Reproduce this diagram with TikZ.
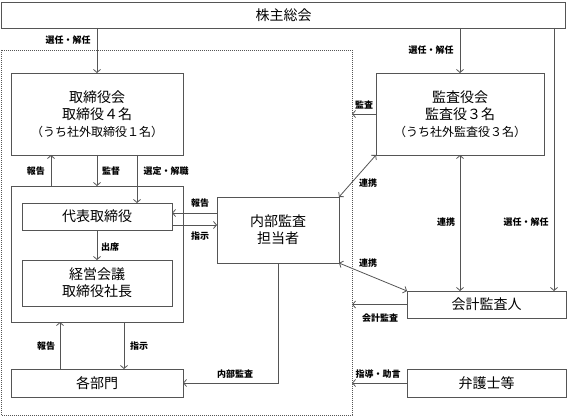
\documentclass[tikz,border=0pt]{standalone}
\usepackage{fontspec}
\setmainfont{Noto Sans CJK JP}
\usetikzlibrary{arrows.meta}
\definecolor{ln}{HTML}{555555}
\tikzset{
  x=1pt, y=-1pt,
  box/.style={draw=ln, line width=0.9pt, inner sep=0pt, outer sep=0pt, align=center,
    font=\fontsize{14}{17}\selectfont},
  arr/.style={draw=ln, line width=0.8pt, -{Straight Barb[length=3pt,width=7pt]}},
  darr/.style={draw=ln, line width=0.8pt, {Straight Barb[length=3pt,width=7pt]}-{Straight Barb[length=3pt,width=7pt]}},
  plain/.style={draw=ln, line width=0.8pt},
  lab/.style={font=\fontsize{9}{10}\selectfont\bfseries, inner sep=0pt},
}
\begin{document}
\begin{tikzpicture}
\useasboundingbox (0,0) rectangle (568,417);
% dotted frame
\draw[draw=ln, line width=0.8pt, dash pattern=on 0.8pt off 1.2pt] (1,50) rectangle (352,415);
% boxes
\node[box, minimum width=564pt, minimum height=26pt] (top) at (283.5,15) {株主総会};
\node[box, minimum width=172pt, minimum height=82pt] (tori) at (97,114)
  {取締役会\\取締役４名\\{\fontsize{12}{13}\selectfont（うち社外取締役１名）}};
\node[box, minimum width=168pt, minimum height=82pt] (kansa) at (460,114)
  {監査役会\\監査役３名\\{\fontsize{12}{13}\selectfont（うち社外監査役３名）}};
\node[box, minimum width=172pt, minimum height=136pt] (outer) at (97,254) {};
\node[box, minimum width=150pt, minimum height=27pt] (daihyo) at (97,216.5) {代表取締役};
\node[box, minimum width=150pt, minimum height=46pt] (keiei) at (97,283) {経営会議\\取締役社長};
\node[box, minimum width=122pt, minimum height=66pt] (naibu) at (278,230) {内部監査\\担当者};
\node[box, minimum width=172pt, minimum height=28pt] (kakubu) at (97,383) {各部門};
\node[box, minimum width=159pt, minimum height=27pt] (kaikei) at (486.5,304.5) {会計監査人};
\node[box, minimum width=159pt, minimum height=28pt] (bengo) at (486.5,383) {弁護士等};
% helper coordinates
\coordinate (dl) at (352,0);
\coordinate (x51) at (51,0);
\coordinate (x137) at (137,0);
\coordinate (x554) at (554,0);
\coordinate (x60) at (60,0);
\coordinate (x124) at (124,0);
\coordinate (y213) at (0,213);
\coordinate (y225) at (0,225);
% connectors
\draw[arr] (top.south -| tori.north) -- (tori.north);
\draw[arr] (top.south -| kansa.north) -- (kansa.north);
\draw[arr] (top.south -| x554) -- (kaikei.north -| x554);
\draw[arr] (kansa.west) -- (kansa.west -| dl);
\draw[arr] (outer.north -| x51) -- (tori.south -| x51);
\draw[arr] (tori.south) -- (outer.north);
\draw[arr] (tori.south -| x137) -- (daihyo.north -| x137);
\draw[arr] (naibu.west |- y213) -- (daihyo.east |- y213);
\draw[arr] (daihyo.east |- y225) -- (naibu.west |- y225);
\draw[arr] (daihyo.south) -- (keiei.north);
\draw[darr] (naibu.north east) -- (kansa.south west);
\draw[darr] (kansa.south) -- (kaikei.north -| kansa.south);
\draw[darr] (naibu.south east) -- (kaikei.north west);
\draw[arr] (kaikei.west) -- (kaikei.west -| dl);
\draw[arr] (bengo.west) -- (bengo.west -| dl);
\draw[arr] (kakubu.north -| x60) -- (outer.south -| x60);
\draw[arr] (outer.south -| x124) -- (kakubu.north -| x124);
\draw[arr] (naibu.south) -- (kakubu.east -| naibu.south) -- (kakubu.east);
% labels
\node[lab] (l1) at (68,40) {選任・解任};
\node[lab] (l2) at (431,50) {選任・解任};
\node[lab] (l3) at (526,222) {選任・解任};
\node[lab] (l4) at (364,105) {監査};
\node[lab] (l5) at (36,171) {報告};
\node[lab] (l6) at (111,171) {監督};
\node[lab] (l7) at (166,171) {選定・解職};
\node[lab] (l8) at (200,203) {報告};
\node[lab] (l9) at (200,236) {指示};
\node[lab] (l10) at (110,247) {出席};
\node[lab] (l11) at (368,183) {連携};
\node[lab] (l12) at (446,222) {連携};
\node[lab] (l13) at (368,263) {連携};
\node[lab] (l14) at (380,318) {会計監査};
\node[lab] (l15) at (46,346) {報告};
\node[lab] (l16) at (139,346) {指示};
\node[lab] (l17) at (235,374) {内部監査};
\node[lab] (l18) at (378,374) {指導・助言};
\end{tikzpicture}
\end{document}
